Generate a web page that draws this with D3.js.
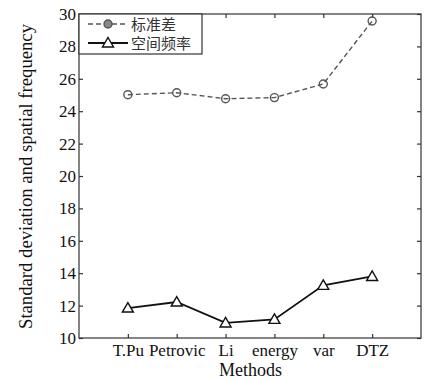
<!DOCTYPE html>
<html>
<head>
<meta charset="utf-8">
<script src="https://cdn.jsdelivr.net/npm/d3@7"></script>
<style>
  body { margin: 0; background: #fff; }
  svg { display: block; }
</style>
</head>
<body>
<div id="chart"></div>
<script>
const methods = ["T.Pu", "Petrovic", "Li", "energy", "var", "DTZ"];
const stdDev = [25.02, 25.14, 24.77, 24.84, 25.68, 29.57];
const spatialFreq = [11.85, 12.22, 10.93, 11.15, 13.25, 13.8];
const yTicks = [10, 12, 14, 16, 18, 20, 22, 24, 26, 28, 30];
const legendLabels = ["标准差", "空间频率"];

const width = 427, height = 381;
const margin = {top: 14, right: 6, bottom: 43, left: 79};
const axisColor = "#333";
const serif = '"Liberation Serif"';

const svg = d3.select("#chart").append("svg")
  .attr("width", width)
  .attr("height", height);

const x = d3.scaleLinear().domain([0, methods.length + 1]).range([margin.left, width - margin.right]);
const y = d3.scaleLinear().domain([10, 30]).range([height - margin.bottom, margin.top]);

// frame
svg.append("rect")
  .attr("x", x(0)).attr("y", y(30))
  .attr("width", x(methods.length + 1) - x(0))
  .attr("height", y(10) - y(30))
  .attr("fill", "none")
  .attr("stroke", axisColor)
  .attr("stroke-width", 1.2);

const idx = methods.map((_, i) => i + 1);

// axes with inward ticks
const xAxis = d3.axisBottom(x).tickValues(idx).tickFormat(i => methods[i - 1]).tickSizeInner(-4).tickSizeOuter(0).tickPadding(6);
const xTop = d3.axisTop(x).tickValues(idx).tickFormat("").tickSizeInner(-4).tickSizeOuter(0);
const yAxis = d3.axisLeft(y).tickValues(yTicks).tickFormat(d3.format("d")).tickSizeInner(-4).tickSizeOuter(0).tickPadding(3);
const yRight = d3.axisRight(y).tickValues(yTicks).tickFormat("").tickSizeInner(-4).tickSizeOuter(0);

function style(g) {
  g.attr("font-family", null);
  g.select(".domain").remove();
  g.selectAll(".tick line").attr("stroke", axisColor).attr("stroke-width", 1.2);
  g.selectAll(".tick text").attr("fill", "#111").attr("font-size", 17).style("font-family", serif);
}

svg.append("g").attr("transform", `translate(0,${y(10)})`).call(xAxis).call(style);
svg.append("g").attr("transform", `translate(0,${y(30)})`).call(xTop).call(style);
svg.append("g").attr("transform", `translate(${x(0)},0)`).call(yAxis).call(style);
svg.append("g").attr("transform", `translate(${x(methods.length + 1)},0)`).call(yRight).call(style);

// axis titles
svg.append("text")
  .attr("x", 250.5)
  .attr("y", 376)
  .attr("text-anchor", "middle")
  .attr("font-size", 18)
  .attr("fill", "#111")
  .style("font-family", serif)
  .text("Methods");

svg.append("text")
  .attr("transform", "translate(32,176.5) rotate(-90)")
  .attr("text-anchor", "middle")
  .attr("font-size", 18)
  .attr("textLength", 305)
  .attr("lengthAdjust", "spacingAndGlyphs")
  .attr("fill", "#111")
  .style("font-family", serif)
  .text("Standard deviation and spatial frequency");

// series
const line = d3.line().x((d, i) => x(i + 1)).y(d => y(d));
const stdColor = "#555";
const triPath = "M0,-5.5L5.5,4L-5.5,4Z";

svg.append("path")
  .attr("d", line(stdDev))
  .attr("fill", "none")
  .attr("stroke", stdColor)
  .attr("stroke-width", 1.4)
  .attr("stroke-dasharray", "5,3");

svg.append("g").selectAll("circle")
  .data(stdDev)
  .join("circle")
  .attr("cx", (d, i) => x(i + 1))
  .attr("cy", d => y(d))
  .attr("r", 4)
  .attr("fill", "none")
  .attr("stroke", stdColor)
  .attr("stroke-width", 1.4);

svg.append("path")
  .attr("d", line(spatialFreq))
  .attr("fill", "none")
  .attr("stroke", "#111")
  .attr("stroke-width", 1.8);

svg.append("g").selectAll("path")
  .data(spatialFreq)
  .join("path")
  .attr("d", triPath)
  .attr("transform", (d, i) => `translate(${x(i + 1)},${y(d)})`)
  .attr("fill", "#fff")
  .attr("stroke", "#111")
  .attr("stroke-width", 1.4);

// legend
const lg = svg.append("g");
lg.append("rect")
  .attr("x", x(0)).attr("y", y(30))
  .attr("width", 123).attr("height", 40)
  .attr("fill", "#fff")
  .attr("stroke", axisColor)
  .attr("stroke-width", 1.2);

const rows = [24, 43];
lg.append("line")
  .attr("x1", 88).attr("x2", 128).attr("y1", rows[0]).attr("y2", rows[0])
  .attr("stroke", stdColor).attr("stroke-width", 1.4).attr("stroke-dasharray", "5,3");
lg.append("circle")
  .attr("cx", 108).attr("cy", rows[0]).attr("r", 4)
  .attr("fill", "#888").attr("stroke", stdColor).attr("stroke-width", 1.4);
lg.append("line")
  .attr("x1", 88).attr("x2", 128).attr("y1", rows[1]).attr("y2", rows[1])
  .attr("stroke", "#111").attr("stroke-width", 1.8);
lg.append("path")
  .attr("d", triPath)
  .attr("transform", `translate(108,${rows[1]})`)
  .attr("fill", "#fff").attr("stroke", "#111").attr("stroke-width", 1.4);

lg.selectAll("text.cjk")
  .data(legendLabels)
  .join("text")
  .attr("class", "cjk")
  .attr("x", 131)
  .attr("y", (d, i) => rows[i] + 5.5)
  .attr("font-size", 15)
  .attr("fill", "#333")
  .style("font-family", '"Noto Sans CJK SC"')
  .text(d => d);
</script>
</body>
</html>
